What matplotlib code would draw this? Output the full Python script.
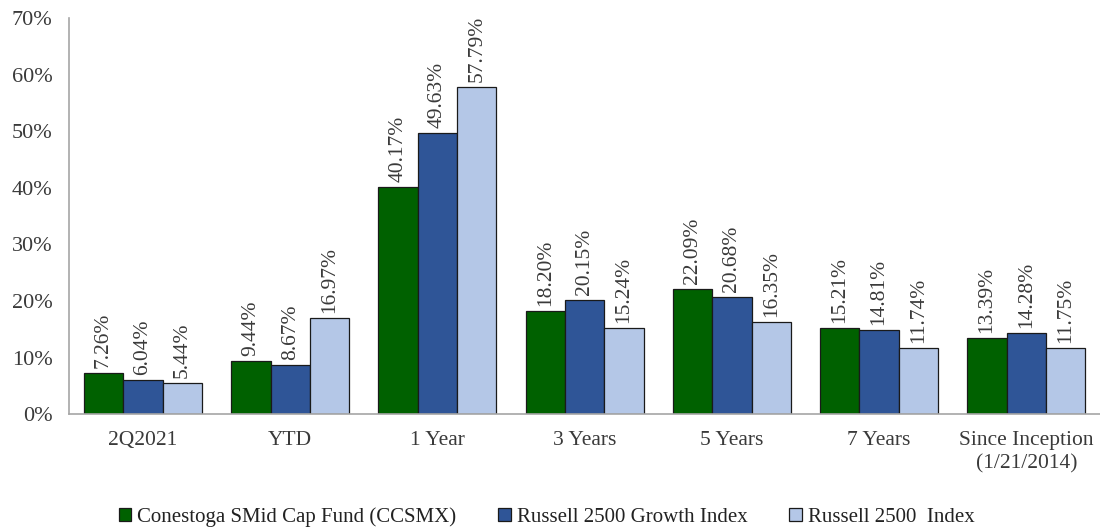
import matplotlib
matplotlib.use("Agg")
import matplotlib.pyplot as plt
import numpy as np

categories = ["2Q2021", "YTD", "1 Year", "3 Years", "5 Years", "7 Years", "Since Inception\n(1/21/2014)"]
series_names = ["Conestoga SMid Cap Fund (CCSMX)", "Russell 2500 Growth Index", "Russell 2500  Index"]
fund = [7.26, 9.44, 40.17, 18.20, 22.09, 15.21, 13.39]
growth = [6.04, 8.67, 49.63, 20.15, 20.68, 14.81, 14.28]
index = [5.44, 16.97, 57.79, 15.24, 16.35, 11.74, 11.75]
colors = ["#006100", "#2F5597", "#B4C7E7"]

plt.rcParams['font.family'] = ['Liberation Serif', 'DejaVu Serif']

fig = plt.figure(figsize=(11, 5.27), dpi=100)
ax = fig.add_axes([0.063, 0.214, 0.937, 0.752])

x = np.arange(len(categories))
w = 0.267
for i, (vals, name, c) in enumerate(zip([fund, growth, index], series_names, colors)):
    pos = x + (i - 1) * w
    bars = ax.bar(pos, vals, w, color=c, edgecolor="#1a1a1a", linewidth=0.9, label=name)
    for b, v in zip(bars, vals):
        ax.text(b.get_x() + b.get_width() / 2, v + 0.9, f"{v:.2f}%", rotation=90,
                ha="center", va="bottom", fontsize=15.5, color="#3a3a3a")

ax.set_xlim(-0.5, len(categories) - 0.5)
ax.set_ylim(0, 70)
ax.set_yticks(np.arange(0, 71, 10))
ax.set_yticklabels([f"{t}%" for t in range(0, 71, 10)], fontsize=16, color="#3a3a3a")
ax.set_xticks(x)
ax.set_xticklabels(categories, fontsize=15.5, color="#3a3a3a", linespacing=1.3)
ax.tick_params(axis="both", length=0)
ax.tick_params(axis="x", pad=12)
ax.tick_params(axis="y", pad=12)
for s in ["top", "right"]:
    ax.spines[s].set_visible(False)
for s in ["left", "bottom"]:
    ax.spines[s].set_color("#a6a6a6")
    ax.spines[s].set_linewidth(1.2)

leg = fig.legend(loc="lower center", bbox_to_anchor=(0.497, -0.036), ncol=3, frameon=False,
                 fontsize=15, handlelength=0.6, handleheight=0.6, handletextpad=0.3,
                 columnspacing=2.0)
for t in leg.get_texts():
    t.set_color("#222222")

fig.savefig("out.png", dpi=100)
